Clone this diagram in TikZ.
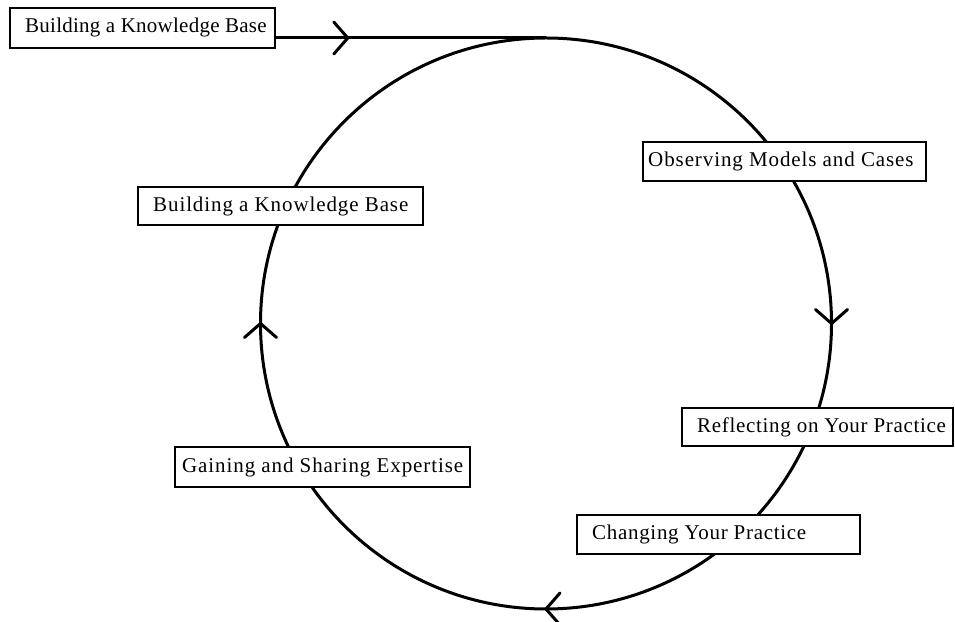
\documentclass[tikz,border=0pt]{standalone}
\usepackage{fontspec}
\setmainfont{Liberation Serif}
\newfontfamily\lsA[LetterSpace=1.2]{Liberation Serif}
\newfontfamily\lsB[LetterSpace=4.3]{Liberation Serif}
\newfontfamily\lsC[LetterSpace=3.3]{Liberation Serif}
\usetikzlibrary{decorations.markings}
\tikzset{
  stage/.style={draw=black, line width=1.6pt, fill=white, rectangle, inner sep=0pt, anchor=center},
  label/.style={anchor=west, inner sep=0pt, font=\fontsize{21}{24}\selectfont},
  cyc/.style={line width=3pt},
  chev/.style={line width=3pt, line cap=round, line join=miter},
  chevmark/.style={postaction={decorate, decoration={markings,
    mark=at position #1 with {\draw[chev] (-14pt,16pt) -- (0pt,0pt) -- (-14pt,-16pt);}}}}
}
\begin{document}
\begin{tikzpicture}[x=1pt,y=1pt]
\useasboundingbox (0,0) rectangle (955,621);
\coordinate (top) at (546,583);
% cycle
\draw[cyc, chevmark=0.25, chevmark=0.5, chevmark=0.75]
  (top) arc[start angle=90, end angle=-270, radius=285.5pt];
% stage boxes
\node[stage, minimum width=265pt, minimum height=40pt] (kb1) at (142.5,593) {};
\node[label] (kb1t) at (25,594) {\lsA Building a Knowledge Base};
\node[stage, minimum width=285pt, minimum height=38pt] (kb2) at (280.5,415) {};
\node[label] (kb2t) at (153,415) {\lsB Building a Knowledge Base};
\node[stage, minimum width=283pt, minimum height=39pt] (obs) at (784.5,459.5) {};
\node[label] (obst) at (648,459.5) {\lsB Observing Models and Cases};
\node[stage, minimum width=271pt, minimum height=38pt] (refl) at (817.5,194) {};
\node[label] (reflt) at (697,194) {\lsC Reflecting on Your Practice};
\node[stage, minimum width=295pt, minimum height=40pt] (gain) at (322.5,154) {};
\node[label] (gaint) at (182,154) {\lsB Gaining and Sharing Expertise};
\node[stage, minimum width=283pt, minimum height=39pt] (chg) at (718.5,86.5) {};
\node[label] (chgt) at (592,86.5) {\lsC Changing Your Practice};
% entry line
\draw[cyc, postaction={decorate, decoration={markings,
    mark=at position 72pt with {\draw[chev] (-14pt,16pt) -- (0pt,0pt) -- (-14pt,-16pt);}}}]
  (kb1.east |- top) -- (top);
\end{tikzpicture}
\end{document}
